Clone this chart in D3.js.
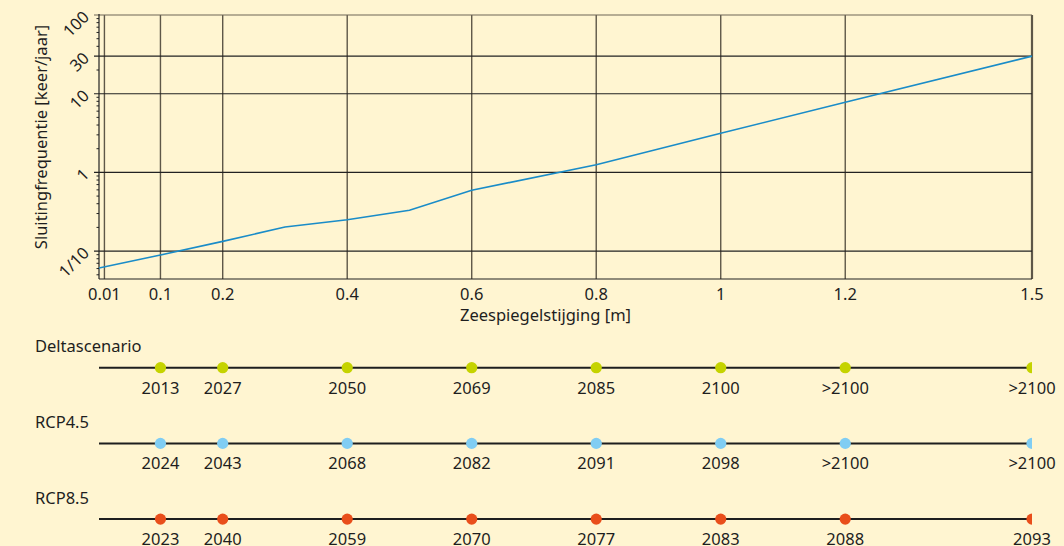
<!DOCTYPE html>
<html>
<head>
<meta charset="utf-8">
<script src="https://cdn.jsdelivr.net/npm/d3@7"></script>
<style>
  html, body { margin: 0; padding: 0; background: #fff5d1; }
  svg { display: block; font-family: "Noto Sans", sans-serif; }
  text { fill: #1e1e1e; }
</style>
</head>
<body>
<script>
// data ---------------------------------------------------------------
const xTicks = [0.01, 0.1, 0.2, 0.4, 0.6, 0.8, 1, 1.2, 1.5];
const yTicks = [0.1, 1, 10, 30, 100];
const yTickLabels = ['1/10', '1', '10', '30', '100'];

const seaLevel = [0, 0.1, 0.2, 0.3, 0.4, 0.5, 0.6, 0.8, 1.0, 1.2, 1.5];
const closureFreq = [0.061, 0.089, 0.133, 0.202, 0.25, 0.33, 0.593, 1.25, 3.14, 7.78, 30];

const timelineRise = [0.1, 0.2, 0.4, 0.6, 0.8, 1.0, 1.2, 1.5];
const scenarioNames = ['Deltascenario', 'RCP4.5', 'RCP8.5'];
const deltaYears = ['2013', '2027', '2050', '2069', '2085', '2100', '>2100', '>2100'];
const rcp45Years = ['2024', '2043', '2068', '2082', '2091', '2098', '>2100', '>2100'];
const rcp85Years = ['2023', '2040', '2059', '2070', '2077', '2083', '2088', '2093'];
const scenarioColors = ['#c5d300', '#80cdf3', '#e94e1b'];

// layout -------------------------------------------------------------
const width = 1064, height = 546;
const plot = { left: 99, right: 1032, top: 15, bottom: 279 };

const svg = d3.select('body').append('svg')
  .attr('width', width)
  .attr('height', height);

svg.append('rect').attr('width', width).attr('height', height).attr('fill', '#fff5d1');

const x = d3.scaleLinear().domain([0, 1.5]).range([98.2, plot.right]);
const y = d3.scaleLog().domain([0.0442, 100]).range([plot.bottom, plot.top]);

// minor ticks 2..9 per decade
const minorTicks = [];
[0.01, 0.1, 1, 10].forEach(dec => {
  for (let m = 2; m <= 9; m++) {
    const v = dec * m;
    if (v >= 0.0442 && v <= 100 && !yTicks.includes(+v.toFixed(4))) minorTicks.push(v);
  }
});

const g = svg.append('g');

// vertical grid
g.selectAll('line.vgrid')
  .data(xTicks)
  .enter().append('line')
  .attr('class', 'vgrid')
  .attr('x1', d => x(d)).attr('x2', d => x(d))
  .attr('y1', plot.top).attr('y2', plot.bottom)
  .attr('stroke', '#5e5748')
  .attr('stroke-width', d => d === 1.5 ? 2.2 : 1.4);

// horizontal grid
g.selectAll('line.hgrid')
  .data(yTicks)
  .enter().append('line')
  .attr('class', 'hgrid')
  .attr('x1', 94).attr('x2', plot.right)
  .attr('y1', d => y(d)).attr('y2', d => y(d))
  .attr('stroke', d => d === 100 ? '#6e6757' : '#222')
  .attr('stroke-width', 1.1);

// minor ticks
g.selectAll('line.minor')
  .data(minorTicks)
  .enter().append('line')
  .attr('class', 'minor')
  .attr('x1', 96.5).attr('x2', plot.left)
  .attr('y1', d => y(d)).attr('y2', d => y(d))
  .attr('stroke', '#222')
  .attr('stroke-width', 1);

// axis lines
g.append('line')
  .attr('x1', plot.left).attr('x2', plot.left)
  .attr('y1', plot.top - 1).attr('y2', plot.bottom)
  .attr('stroke', '#222').attr('stroke-width', 1.2);
g.append('line')
  .attr('x1', plot.left).attr('x2', plot.right)
  .attr('y1', plot.bottom).attr('y2', plot.bottom)
  .attr('stroke', '#222').attr('stroke-width', 1.2);

// line
const points = seaLevel.map((s, i) => [s, closureFreq[i]]);
g.append('path')
  .datum(points)
  .attr('fill', 'none')
  .attr('stroke', '#1a8cc8')
  .attr('stroke-width', 1.6)
  .attr('d', d3.line().x(d => Math.max(x(d[0]), plot.left)).y(d => y(d[1])));

// x tick labels
g.selectAll('text.xtick')
  .data(xTicks)
  .enter().append('text')
  .attr('class', 'xtick')
  .attr('x', d => x(d))
  .attr('y', 299.5)
  .attr('text-anchor', 'middle')
  .style('font-size', '16.5px')
  .text(d => d);

// y tick labels (rotated)
g.selectAll('text.ytick')
  .data(yTicks)
  .enter().append('text')
  .attr('class', 'ytick')
  .attr('transform', d => 'translate(86,' + (y(d) - 1) + ') rotate(-45)')
  .attr('text-anchor', 'end')
  .attr('dy', '0.35em')
  .style('font-size', '16.5px')
  .text((d, i) => yTickLabels[i]);

// axis titles
g.append('text')
  .attr('transform', 'translate(47,137) rotate(-90)')
  .attr('text-anchor', 'middle')
  .style('font-size', '16.5px')
  .text('Sluitingfrequentie [keer/jaar]');

g.append('text')
  .attr('x', 545.5)
  .attr('y', 321)
  .attr('text-anchor', 'middle')
  .style('font-size', '16.5px')
  .text('Zeespiegelstijging [m]');

// timelines ----------------------------------------------------------
svg.append('clipPath').attr('id', 'tl-clip')
  .append('rect').attr('x', 0).attr('y', -50).attr('width', plot.right).attr('height', 100);

const yearSets = [deltaYears, rcp45Years, rcp85Years];
const rowY = [367.7, 443.4, 519.1];

const rows = svg.selectAll('g.row')
  .data(scenarioNames)
  .enter().append('g')
  .attr('class', 'row')
  .attr('transform', (d, i) => 'translate(0,' + rowY[i] + ')');

rows.append('text')
  .attr('x', 35)
  .attr('y', -15.5)
  .style('font-size', '16.5px')
  .text(d => d);

rows.append('line')
  .attr('x1', plot.left).attr('x2', plot.right)
  .attr('y1', 0).attr('y2', 0)
  .attr('stroke', '#1e1e1e')
  .attr('stroke-width', 2);

rows.each(function (name, i) {
  const row = d3.select(this);
  const items = timelineRise.map((r, j) => ({ r: r, year: yearSets[i][j] }));

  row.append('g').attr('clip-path', 'url(#tl-clip)')
    .selectAll('circle')
    .data(items)
    .enter().append('circle')
    .attr('cx', d => x(d.r))
    .attr('cy', 0)
    .attr('r', 5.6)
    .attr('fill', scenarioColors[i]);

  row.selectAll('text.year')
    .data(items)
    .enter().append('text')
    .attr('class', 'year')
    .attr('x', d => x(d.r))
    .attr('y', 26)
    .attr('text-anchor', 'middle')
    .style('font-size', '16.5px')
    .text(d => d.year);
});
</script>
</body>
</html>
